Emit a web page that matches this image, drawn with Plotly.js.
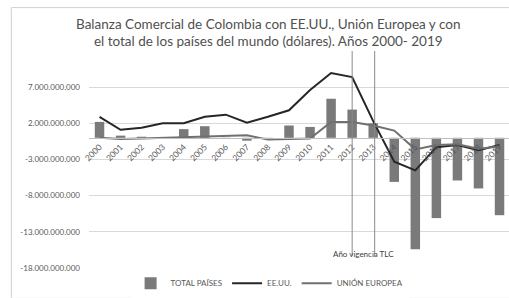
<!DOCTYPE html>
<html><head><meta charset="utf-8">
<script src="https://cdn.plot.ly/plotly-3.0.1.min.js"></script>
<style>html,body{margin:0;padding:0;background:#fff}#c{width:509px;height:298px}</style>
</head><body><div id="c"></div>
<script>
const years = ['2000','2001','2002','2003','2004','2005','2006','2007','2008','2009','2010','2011','2012','2013','2014','2015','2016','2017','2018','2019'];
const totalPaises = [2.2e9,0.3e9,0.15e9,0.1e9,1.2e9,1.6e9,-0.05e9,-0.4e9,-0.1e9,1.7e9,1.5e9,5.4e9,3.9e9,2.0e9,-6.1e9,-15.4e9,-11.1e9,-5.9e9,-7.0e9,-10.7e9];
const eeuu = [2.9e9,1.1e9,1.4e9,2.0e9,2.0e9,2.9e9,3.2e9,2.1e9,2.9e9,3.8e9,6.6e9,8.95e9,8.4e9,2.3e9,-3.3e9,-4.5e9,-1.3e9,-1.0e9,-1.7e9,-1.0e9];
const unionEuropea = [0.0e9,-0.15e9,-0.1e9,0.0e9,0.05e9,0.1e9,0.2e9,0.35e9,-0.25e9,-0.15e9,-0.1e9,2.2e9,2.2e9,1.7e9,1.0e9,-1.6e9,-1.0e9,-0.9e9,-1.5e9,-1.2e9];
const yTicks = [7e9,2e9,-3e9,-8e9,-13e9,-18e9];
const yTickText = ['7.000.000.000','2.000.000.000','-3.000.000.000','-8.000.000.000','-13.000.000.000','-18.000.000.000'];
const tlcYears = ['2012','2013'];

const font = 'Lato, "Open Sans", sans-serif';
const traces = [
  {type:'bar', x:years, y:totalPaises, name:'TOTAL PAÍSES', marker:{color:'#7a7a7a'}},
  {type:'scatter', mode:'lines', x:years, y:eeuu, name:'EE.UU.', line:{color:'#262626', width:2}},
  {type:'scatter', mode:'lines', x:years, y:unionEuropea, name:'UNIÓN EUROPEA', line:{color:'#707070', width:2}}
];
const shapes = tlcYears.map((yr,i)=>({type:'line', xref:'x', yref:'paper', x0:i===1?13.07:12, x1:i===1?13.07:12, y0:0.055, y1:1.0, line:{color:'#8a8a8a', width:1}}));
shapes.push({type:'rect', xref:'paper', yref:'paper', x0:-0.185, x1:1.05, y0:-0.14, y1:1.2, line:{color:'#d0d0d0', width:1}, fillcolor:'rgba(0,0,0,0)', layer:'below'});
const layout = {
  width:509, height:298,
  margin:{l:89, r:0, t:51, b:30, pad:0},
  paper_bgcolor:'#fff', plot_bgcolor:'#fff',
  font:{family:font, color:'#595959', size:8},
  title:{text:'Balanza Comercial de Colombia con EE.UU., Unión Europea y con<br>el total de los países del mundo (dólares). Años 2000- 2019', font:{family:font, size:13.5, color:'#505050'}, x:0.527, xanchor:'center', y:0.903, yanchor:'top'},
  bargap:0.55,
  xaxis:{type:'category', range:[-0.5,19.45], anchor:'free', position:0.6, showgrid:false, showline:true, linecolor:'#bfbfbf', ticks:'', tickangle:-45, tickfont:{size:8.5, color:'#595959'}, zeroline:false},
  yaxis:{range:[-18e9,12e9], tickvals:yTicks, ticktext:yTickText, showgrid:true, gridcolor:'#d9d9d9', gridwidth:1, zeroline:false, showline:false, ticks:'', tickfont:{size:8, color:'#595959'}, ticklabelstandoff:8},
  showlegend:true,
  legend:{orientation:'h', x:0.43, xanchor:'center', y:-0.07, yanchor:'middle', font:{size:8, color:'#595959'}, itemwidth:30, traceorder:'normal'},
  shapes:shapes,
  annotations:[{text:'Año vigencia TLC', xref:'x', yref:'paper', x:12.55, y:0.03, showarrow:false, font:{size:8, color:'#404040'}}]
};
Plotly.newPlot('c', traces, layout, {displayModeBar:false, staticPlot:true});
</script></body></html>
